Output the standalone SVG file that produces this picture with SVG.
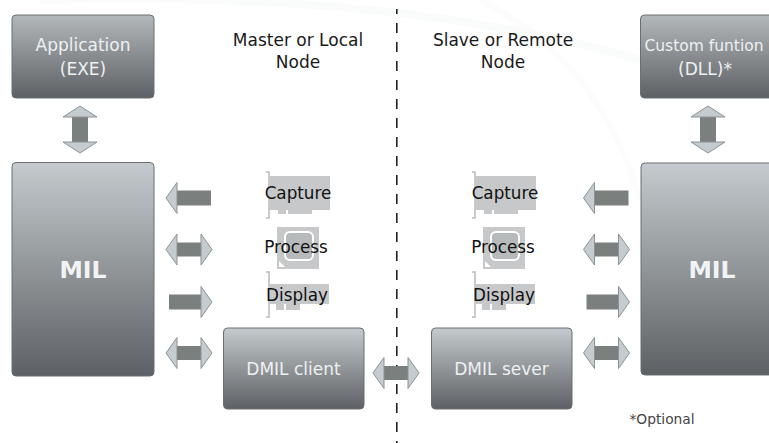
<svg xmlns="http://www.w3.org/2000/svg" width="769" height="443" viewBox="0 0 769 443">
<defs>
<linearGradient id="boxg" x1="0" y1="0" x2="0" y2="1">
<stop offset="0" stop-color="#c4cacd"/>
<stop offset="1" stop-color="#5d6064"/>
</linearGradient>
<linearGradient id="boxs" x1="0" y1="0" x2="0" y2="1">
<stop offset="0" stop-color="#b3b8bb"/>
<stop offset="1" stop-color="#5d6064"/>
</linearGradient>
<g id="arrL">
<rect x="177" y="-7.5" width="34" height="15" fill="#7b807f"/>
<path d="M177,-15.5 L166,0 L177,15.5 Z" fill="#c5ccd0" stroke="#8d9394" stroke-width="1"/>
</g>
<g id="arrR">
<rect x="169" y="-7.5" width="32" height="15" fill="#7b807f"/>
<path d="M201,-15.5 L212,0 L201,15.5 Z" fill="#c5ccd0" stroke="#8d9394" stroke-width="1"/>
</g>
<g id="arrLR">
<rect x="176" y="-7" width="26" height="14" fill="#7b807f"/>
<path d="M177,-15.5 L166,0 L177,15.5 Z" fill="#c5ccd0" stroke="#8d9394" stroke-width="1"/>
<path d="M201,-15.5 L212,0 L201,15.5 Z" fill="#c5ccd0" stroke="#8d9394" stroke-width="1"/>
</g>
<g id="arrUD">
<rect x="-8" y="117" width="16" height="25" fill="#7b807f"/>
<path d="M-17,117 L0,106 L17,117 Z" fill="#c5ccd0" stroke="#8d9394" stroke-width="1"/>
<path d="M-17,142 L0,153 L17,142 Z" fill="#c5ccd0" stroke="#8d9394" stroke-width="1"/>
</g>
<g id="capture">
<path d="M0,0 L3,0 L3,46 L0,46" fill="none" stroke="#b9bbbc" stroke-width="1.5"/>
<rect x="3" y="4" width="61" height="34" fill="#c6c8c9"/>
<rect x="12" y="38" width="8" height="4" fill="#c6c8c9"/>
<rect x="22" y="38" width="24" height="4" fill="#c6c8c9"/>
</g>
<g id="display">
<path d="M0,0 L3,0 L3,45 L0,45" fill="none" stroke="#b9bbbc" stroke-width="1.5"/>
<rect x="3" y="12" width="60" height="20" fill="#c6c8c9"/>
<rect x="10" y="32" width="8" height="6" fill="#c6c8c9"/>
<rect x="20" y="32" width="14" height="6" fill="#c6c8c9"/>
</g>
<g id="chip">
<rect x="0" y="0" width="42" height="42" fill="#c6c8c9"/>
<rect x="8" y="5" width="28" height="28" rx="5" fill="#b7babb" stroke="#ffffff" stroke-width="2"/>
<path d="M2,40 L2,34 L8,40 Z" fill="#ffffff"/>
</g>
</defs>
<style>
.box{stroke:#6a6e71;stroke-width:1}
.bt{font-family:"DejaVu Sans",sans-serif;font-size:17px;fill:#eef0f1;text-anchor:middle}
.mil{font-family:"DejaVu Sans",sans-serif;font-size:23.5px;font-weight:bold;fill:#f2f3f4;text-anchor:middle}
.lt{font-family:"DejaVu Sans",sans-serif;font-size:17px;fill:#1a1a1a;text-anchor:middle}
.ic{font-family:"DejaVu Sans",sans-serif;font-size:16.8px;fill:#111111;text-anchor:middle}
.opt{font-family:"DejaVu Sans",sans-serif;font-size:13.8px;fill:#444444;text-anchor:middle}
</style>
<rect width="769" height="443" fill="#ffffff"/>
<path d="M40,0 Q400,-10 640,60" fill="none" stroke="#f8f9f9" stroke-width="8" opacity="0.7"/>
<path d="M480,0 Q600,60 640,200" fill="none" stroke="#f9f9f9" stroke-width="6" opacity="0.5"/>

<line x1="396.8" y1="9" x2="396.8" y2="443" stroke="#222222" stroke-width="1.6" stroke-dasharray="10 9" stroke-dashoffset="5"/>

<g id="label-master"><text class="lt" x="298" y="46">Master or Local</text><text class="lt" x="298" y="68">Node</text></g>
<g id="label-slave"><text class="lt" x="503" y="46">Slave or Remote</text><text class="lt" x="503" y="68">Node</text></g>

<g id="app">
<rect class="box" x="12" y="15" width="142" height="83" rx="4" fill="url(#boxs)"/>
<text class="bt" x="83" y="51">Application</text>
<text class="bt" x="83" y="75">(EXE)</text>
</g>
<g id="custom">
<rect class="box" x="640.5" y="15" width="142" height="83" rx="4" fill="url(#boxs)"/>
<text class="bt" x="704" y="51" style="font-size:15.5px">Custom funtion</text>
<text class="bt" x="705" y="75">(DLL)*</text>
</g>
<g id="mil-left">
<rect class="box" x="12" y="162.5" width="142" height="213.5" rx="4" fill="url(#boxg)"/>
<text class="mil" x="83" y="278">MIL</text>
</g>
<g id="mil-right">
<rect class="box" x="641" y="163" width="142" height="212" rx="4" fill="url(#boxg)"/>
<text class="mil" x="712" y="278">MIL</text>
</g>
<g id="dmil-client">
<rect class="box" x="223.5" y="328" width="140.5" height="81" rx="4" fill="url(#boxg)"/>
<text class="bt" x="293.5" y="375">DMIL client</text>
</g>
<g id="dmil-server">
<rect class="box" x="431.5" y="328" width="140.5" height="81" rx="4" fill="url(#boxg)"/>
<text class="bt" x="501.5" y="375">DMIL sever</text>
</g>

<g id="capture-left"><use href="#capture" x="266" y="172"/><text class="ic" x="298" y="199">Capture</text></g>
<g id="process-left"><use href="#chip" x="277" y="227"/><text class="ic" x="296" y="253">Process</text></g>
<g id="display-left"><use href="#display" x="266" y="272"/><text class="ic" x="297" y="301">Display</text></g>
<g id="capture-right"><use href="#capture" x="472" y="172"/><text class="ic" x="505" y="199">Capture</text></g>
<g id="process-right"><use href="#chip" x="483" y="227"/><text class="ic" x="503" y="253">Process</text></g>
<g id="display-right"><use href="#display" x="472" y="272"/><text class="ic" x="504" y="301">Display</text></g>

<g id="connectors">
<use href="#arrUD" x="80" y="0"/>
<use href="#arrUD" x="708" y="0"/>
<use href="#arrL" x="0" y="198"/>
<use href="#arrLR" x="0" y="249.5"/>
<use href="#arrR" x="0" y="302"/>
<use href="#arrLR" x="0" y="353"/>
<use href="#arrL" x="417.5" y="198"/>
<use href="#arrLR" x="417.5" y="249.5"/>
<use href="#arrR" x="417.5" y="302"/>
<use href="#arrLR" x="417.5" y="353"/>
<use href="#arrLR" x="207" y="373"/>
</g>

<text class="opt" x="662" y="424">*Optional</text>
</svg>
